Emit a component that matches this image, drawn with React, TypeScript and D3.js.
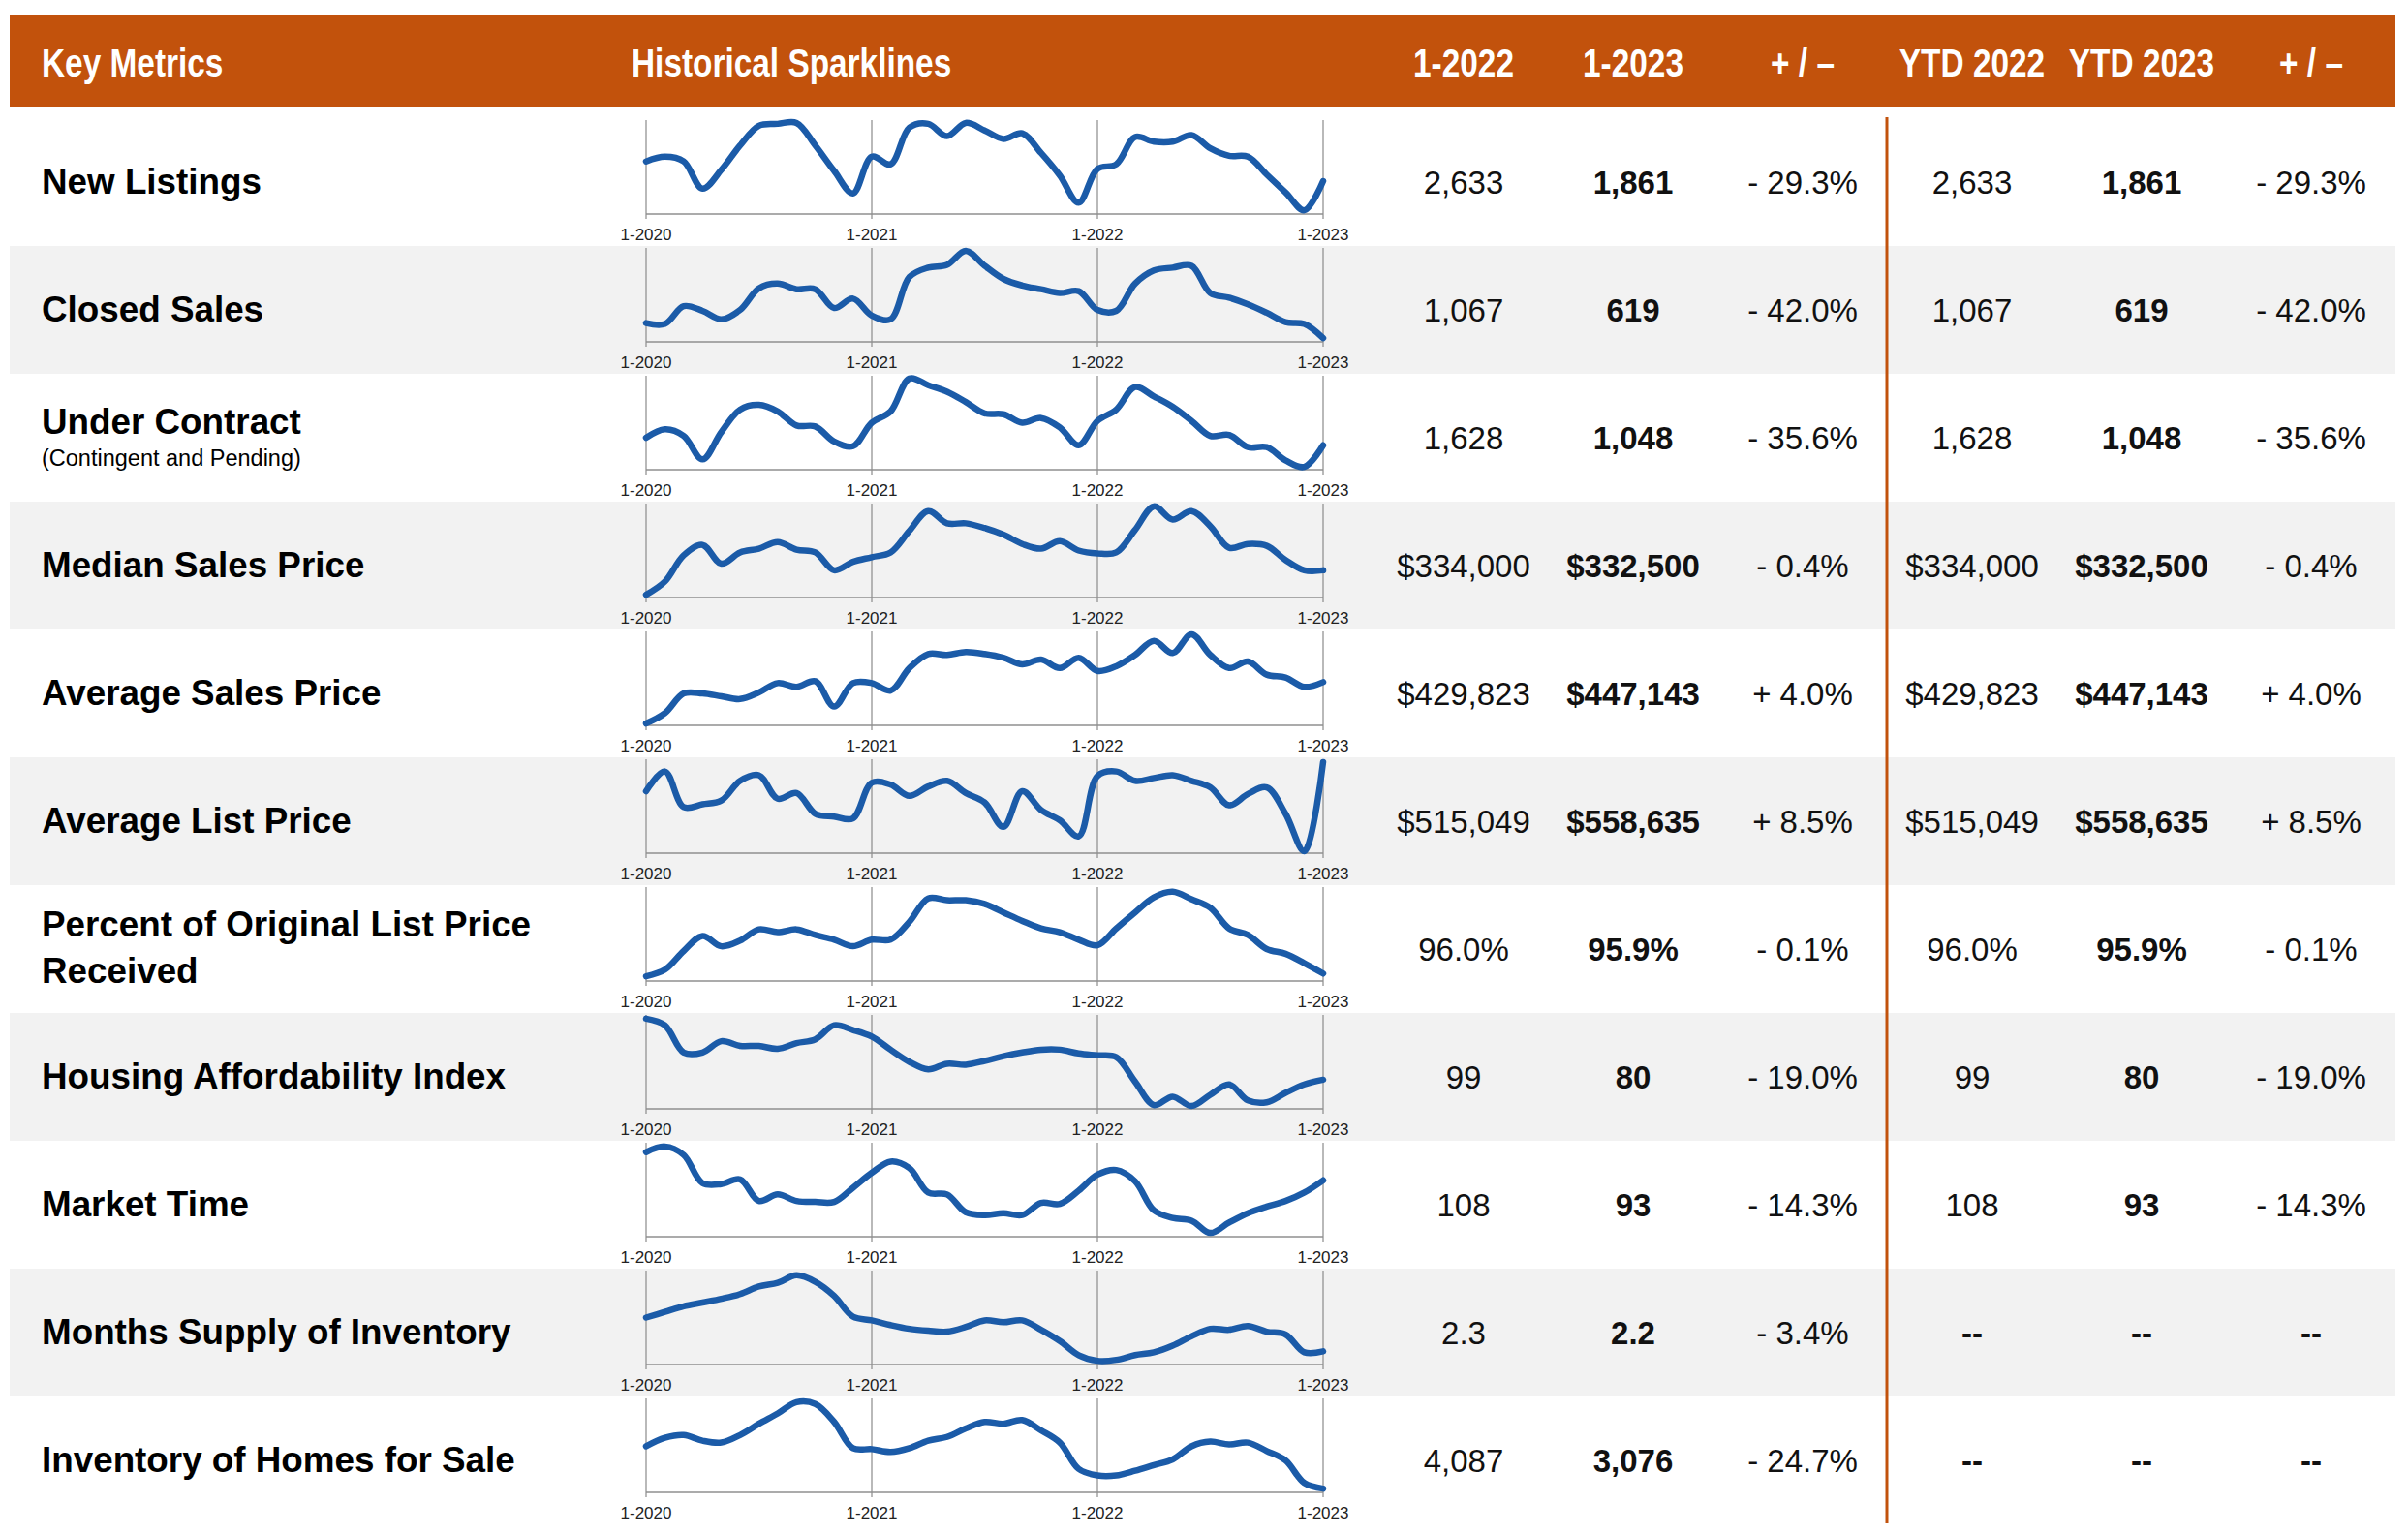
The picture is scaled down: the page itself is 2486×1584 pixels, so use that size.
import React from 'react';
import * as d3 from 'd3';

const W = 2486;
const H = 1584;

// ---- Data ----
const metricLabels: string[][] = [
  ['New Listings'],
  ['Closed Sales'],
  ['Under Contract'],
  ['Median Sales Price'],
  ['Average Sales Price'],
  ['Average List Price'],
  ['Percent of Original List Price', 'Received'],
  ['Housing Affordability Index'],
  ['Market Time'],
  ['Months Supply of Inventory'],
  ['Inventory of Homes for Sale'],
];
const subLabels: string[] = ['', '', '(Contingent and Pending)', '', '', '', '', '', '', '', ''];

const headers = ['1-2022', '1-2023', '+ / \u2013', 'YTD 2022', 'YTD 2023', '+ / \u2013'];

const jan2022 = ['2,633', '1,067', '1,628', '$334,000', '$429,823', '$515,049', '96.0%', '99', '108', '2.3', '4,087'];
const jan2023 = ['1,861', '619', '1,048', '$332,500', '$447,143', '$558,635', '95.9%', '80', '93', '2.2', '3,076'];
const janChange = ['- 29.3%', '- 42.0%', '- 35.6%', '- 0.4%', '+ 4.0%', '+ 8.5%', '- 0.1%', '- 19.0%', '- 14.3%', '- 3.4%', '- 24.7%'];
const ytd2022 = ['2,633', '1,067', '1,628', '$334,000', '$429,823', '$515,049', '96.0%', '99', '108', '--', '--'];
const ytd2023 = ['1,861', '619', '1,048', '$332,500', '$447,143', '$558,635', '95.9%', '80', '93', '--', '--'];
const ytdChange = ['- 29.3%', '- 42.0%', '- 35.6%', '- 0.4%', '+ 4.0%', '+ 8.5%', '- 0.1%', '- 19.0%', '- 14.3%', '--', '--'];

const tickLabels = ['1-2020', '1-2021', '1-2022', '1-2023'];
const tickIndex = [0, 12, 24, 36];

// Sparklines: monthly 1-2020 .. 1-2023, relative height (0 = axis, 100 = top)
const newListings = [56, 61, 56, 27, 47, 73, 94, 96, 97, 73, 46, 22, 61, 53, 92, 96, 83, 97, 89, 80, 86, 65, 41, 12, 48, 53, 82, 77, 77, 84, 70, 62, 61, 42, 23, 4, 35];
const closedSales = [20, 19, 38, 33, 24, 34, 57, 62, 56, 56, 36, 46, 28, 24, 69, 79, 82, 97, 81, 67, 60, 56, 52, 54, 34, 33, 62, 76, 79, 81, 52, 47, 40, 31, 21, 19, 4];
const underContract = [34, 43, 36, 11, 40, 64, 69, 62, 47, 46, 30, 25, 50, 62, 97, 90, 83, 72, 60, 59, 50, 55, 45, 26, 52, 64, 88, 78, 67, 52, 36, 37, 24, 24, 10, 3, 26];
const medianPrice = [3, 17, 45, 56, 36, 48, 52, 59, 51, 48, 29, 38, 43, 48, 71, 92, 79, 79, 74, 67, 57, 52, 60, 50, 47, 48, 72, 97, 83, 92, 76, 53, 57, 55, 40, 29, 29];
const avgSalesPrice = [2, 13, 34, 34, 31, 28, 35, 45, 41, 47, 20, 45, 45, 37, 61, 76, 75, 78, 76, 72, 65, 70, 61, 72, 58, 63, 75, 90, 77, 97, 75, 61, 68, 54, 51, 41, 46];
const avgListPrice = [66, 87, 49, 52, 56, 77, 83, 58, 64, 42, 39, 37, 75, 73, 61, 71, 77, 64, 54, 28, 66, 46, 35, 18, 82, 87, 77, 80, 83, 77, 70, 51, 63, 70, 42, 2, 97];
const pctOrigPrice = [5, 12, 32, 48, 37, 43, 55, 52, 55, 49, 44, 37, 44, 44, 63, 88, 86, 86, 82, 73, 64, 56, 52, 44, 38, 56, 73, 89, 95, 87, 78, 56, 49, 34, 29, 19, 8];
const affordability = [96, 89, 60, 60, 72, 67, 67, 64, 70, 74, 89, 84, 77, 63, 50, 42, 48, 47, 51, 56, 60, 63, 63, 59, 57, 55, 29, 4, 13, 3, 15, 26, 9, 7, 17, 26, 31];
const marketTime = [90, 96, 87, 57, 56, 61, 38, 45, 38, 37, 37, 52, 68, 80, 73, 47, 45, 26, 23, 25, 23, 36, 35, 49, 66, 71, 59, 28, 20, 17, 4, 15, 25, 32, 38, 47, 60];
const monthsSupply = [50, 56, 62, 66, 70, 75, 83, 87, 95, 88, 73, 51, 47, 42, 38, 36, 35, 40, 47, 45, 47, 37, 25, 10, 4, 5, 10, 13, 20, 30, 38, 37, 41, 35, 32, 13, 14];
const inventory = [49, 58, 61, 55, 53, 61, 73, 84, 96, 94, 75, 47, 46, 43, 47, 55, 59, 68, 75, 73, 77, 66, 53, 25, 18, 18, 23, 29, 35, 49, 54, 51, 53, 44, 34, 10, 4];

const sparkSeries = [newListings, closedSales, underContract, medianPrice, avgSalesPrice, avgListPrice, pctOrigPrice, affordability, marketTime, monthsSupply, inventory];

// ---- Styles ----
const ORANGE = '#c2520c';
const BLUE = '#1b5ba8';
const GRAY_ROW = '#f2f2f2';
const FONT = '"Liberation Sans", Arial, Helvetica, sans-serif';

export default function App() {
  const rowIdx = d3.range(metricLabels.length);
  const rowScale = d3.scaleBand<number>().domain(rowIdx).range([122, 1574]).paddingInner(0).paddingOuter(0);
  const rowH = rowScale.bandwidth();

  const colScale = d3.scalePoint<number>().domain(d3.range(6)).range([1511, 2386]);
  const columns = [jan2022, jan2023, janChange, ytd2022, ytd2023, ytdChange];
  const boldCols = [false, true, false, false, true, false];

  const x = d3.scaleLinear().domain([0, 36]).range([667, 1366]);

  return (
    <svg width={W} height={H} style={{ position: 'absolute', left: 0, top: 0, display: 'block', background: '#fff' }}>
      <rect x={0} y={0} width={W} height={H} fill="#fff" />
      {/* Header band */}
      <rect x={10} y={16} width={2463} height={95} fill={ORANGE} />
      <g fill="#fff" fontFamily={FONT} fontWeight="bold" fontSize={40}>
        <text transform="translate(43,79) scale(0.835,1)">Key Metrics</text>
        <text transform="translate(652,79) scale(0.835,1)">Historical Sparklines</text>
        {headers.map((h, i) => (
          <text key={i} transform={`translate(${colScale(i)},79) scale(0.835,1)`} textAnchor="middle">{h}</text>
        ))}
      </g>

      {/* Rows */}
      {rowIdx.map((i) => {
        const R = rowScale(i) as number;
        const y = d3.scaleLinear().domain([0, 100]).range([R + 99, R + 2]);
        const line = d3
          .line<number>()
          .x((_, k) => x(k))
          .y((d) => y(d))
          .curve(d3.curveCatmullRom.alpha(0.5));
        const lines = metricLabels[i];
        return (
          <g key={i}>
            {i % 2 === 1 && <rect x={10} y={R} width={2463} height={rowH} fill={GRAY_ROW} />}
            {/* label */}
            <g fontFamily={FONT} fill="#000">
              {lines.length === 2 ? (
                lines.map((t, k) => (
                  <text key={k} x={43} y={R + 53 + k * 48} fontSize={36.8} fontWeight="bold">{t}</text>
                ))
              ) : subLabels[i] ? (
                <>
                  <text x={43} y={R + 62} fontSize={36.8} fontWeight="bold">{lines[0]}</text>
                  <text x={43} y={R + 95} fontSize={23.5}>{subLabels[i]}</text>
                </>
              ) : (
                <text x={43} y={R + 78} fontSize={36.8} fontWeight="bold">{lines[0]}</text>
              )}
            </g>
            {/* sparkline frame */}
            <g>
              {tickIndex.map((t, k) => (
                <line key={k} x1={x(t)} x2={x(t)} y1={R + 2} y2={R + 104} stroke="#8a8a8a" strokeWidth={1.2} />
              ))}
              <line x1={x(0)} x2={x(36)} y1={R + 99} y2={R + 99} stroke="#8f8f8f" strokeWidth={1.6} />
              {tickIndex.map((t, k) => (
                <text key={k} x={x(t)} y={R + 126} fontFamily={FONT} fontSize={17} textAnchor="middle" fill="#222">
                  {tickLabels[k]}
                </text>
              ))}
              <path d={line(sparkSeries[i]) || ''} fill="none" stroke={BLUE} strokeWidth={6.5} strokeLinejoin="round" strokeLinecap="round" />
            </g>
            {/* values */}
            <g fontFamily={FONT} fontSize={33} fill="#111" textAnchor="middle">
              {columns.map((col, c) => (
                <text key={c} x={colScale(c)} y={R + 78} fontWeight={boldCols[c] || col[i] === '--' ? 'bold' : 'normal'}>{col[i]}</text>
              ))}
            </g>
          </g>
        );
      })}

      {/* Separator */}
      <line x1={1948} x2={1948} y1={121} y2={1573} stroke={ORANGE} strokeWidth={3} />
    </svg>
  );
}
